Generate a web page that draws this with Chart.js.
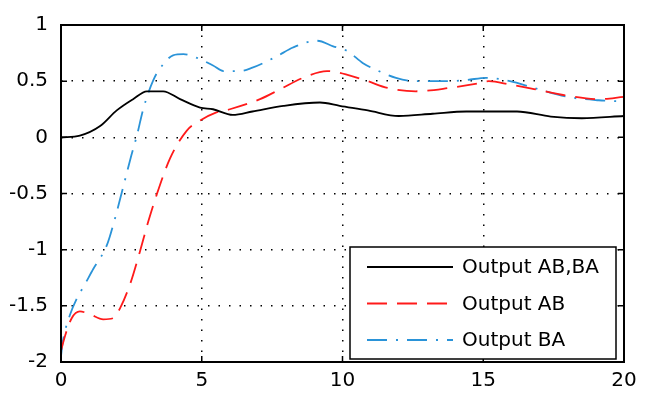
<!DOCTYPE html>
<html>
<head>
<meta charset="utf-8">
<script src="https://cdn.jsdelivr.net/npm/chart.js@4"></script>
<style>
  body { margin: 0; background: #fff; }
  #wrap { width: 647px; height: 395px; }
</style>
</head>
<body>
<div id="wrap"><canvas id="lineChart"></canvas></div>
<script>
// Output AB,BA (black)
var tBoth = [0, 0.67, 1.39, 1.98, 2.56, 3.05, 3.63, 4.23, 4.94, 5.4, 6.1, 6.8, 7.9, 9.2, 9.9, 10.9, 12.0, 13.2, 14.4, 16.2, 17.4, 18.5, 20];
var yBoth = [0, 0.015, 0.1, 0.24, 0.34, 0.41, 0.41, 0.34, 0.265, 0.25, 0.2, 0.23, 0.28, 0.31, 0.28, 0.24, 0.19, 0.21, 0.23, 0.23, 0.185, 0.17, 0.19];

// Output AB (red dashed)
var tAB = [0, 0.14, 0.38, 0.67, 1.03, 1.5, 1.85, 2.1, 2.45, 2.8, 3.1, 3.4, 3.87, 4.47, 4.94, 5.5, 6.0, 7.07, 7.8, 8.6, 9.45, 10.27, 10.9, 11.6, 12.6, 13.8, 14.8, 15.2, 15.95, 16.8, 18.0, 19.1, 20];
var yAB = [-1.9, -1.77, -1.61, -1.55, -1.575, -1.62, -1.61, -1.52, -1.31, -1.02, -0.75, -0.51, -0.19, 0.06, 0.15, 0.22, 0.25, 0.34, 0.43, 0.53, 0.59, 0.55, 0.5, 0.44, 0.41, 0.44, 0.48, 0.5, 0.47, 0.43, 0.37, 0.34, 0.36];

// Output BA (blue dash-dot)
var tBA = [0, 0.05, 0.32, 0.57, 0.8, 1.15, 1.63, 1.92, 2.15, 2.5, 2.7, 2.92, 3.28, 3.63, 3.98, 4.35, 4.8, 5.4, 5.77, 6.36, 6.8, 7.66, 8.24, 9.1, 9.67, 10.16, 10.73, 11.2, 11.9, 12.6, 13.7, 14.4, 15.1, 15.95, 16.8, 18.0, 19.1, 20];
var yBA = [-1.95, -1.84, -1.58, -1.43, -1.33, -1.17, -0.96, -0.72, -0.5, -0.16, 0.02, 0.25, 0.51, 0.65, 0.73, 0.74, 0.71, 0.64, 0.59, 0.59, 0.62, 0.72, 0.8, 0.86, 0.81, 0.77, 0.66, 0.6, 0.53, 0.5, 0.5, 0.51, 0.53, 0.5, 0.44, 0.36, 0.33, 0.32];

var xTicks = [0, 5, 10, 15, 20];
var yTicks = [-2, -1.5, -1, -0.5, 0, 0.5, 1];

function pts(t, y) {
    return t.map(function (v, i) { return { x: v, y: y[i] }; });
}

var FONT = 'DejaVu Sans';

// box, inward ticks and legend drawn on top, matlab style
var boxPlugin = {
    id: 'boxPlugin',
    afterDraw: function (chart) {
        var c = chart.ctx, a = chart.chartArea;
        var xs = chart.scales.x, ys = chart.scales.y;
        c.save();
        c.strokeStyle = '#000';
        c.lineWidth = 2;
        c.setLineDash([]);
        c.strokeRect(a.left, a.top, a.right - a.left, a.bottom - a.top);
        c.lineWidth = 1.5;
        c.beginPath();
        xTicks.forEach(function (v) {
            var px = xs.getPixelForValue(v);
            c.moveTo(px, a.bottom); c.lineTo(px, a.bottom - 6);
            c.moveTo(px, a.top); c.lineTo(px, a.top + 6);
        });
        yTicks.forEach(function (v) {
            var py = ys.getPixelForValue(v);
            c.moveTo(a.left, py); c.lineTo(a.left + 6, py);
            c.moveTo(a.right, py); c.lineTo(a.right - 6, py);
        });
        c.stroke();

        // legend box
        var lx = a.left + 289, ly = a.top + 222, lw = 266, lh = 112;
        c.fillStyle = '#fff';
        c.fillRect(lx, ly, lw, lh);
        c.lineWidth = 1.5;
        c.strokeRect(lx, ly, lw, lh);
        c.font = '20px "' + FONT + '"';
        c.textBaseline = 'middle';
        chart.data.datasets.forEach(function (ds, i) {
            var yy = ly + 20 + i * 36.5;
            c.beginPath();
            c.strokeStyle = ds.borderColor;
            c.lineWidth = ds.borderWidth;
            c.setLineDash(ds.borderDash || []);
            c.moveTo(lx + 17, yy); c.lineTo(lx + 103, yy);
            c.stroke();
            c.setLineDash([]);
            c.fillStyle = '#000';
            c.fillText(ds.label, lx + 112, yy + 1);
        });
        c.restore();
    }
};

var ctx = document.getElementById('lineChart').getContext('2d');
var myChart = new Chart(ctx, {
    type: 'line',
    data: {
        datasets: [{
            label: 'Output AB,BA',
            data: pts(tBoth, yBoth),
            borderColor: '#000000',
            borderWidth: 1.8,
            pointRadius: 0,
            cubicInterpolationMode: 'monotone',
            fill: false
        }, {
            label: 'Output AB',
            data: pts(tAB, yAB),
            borderColor: '#ff1a1a',
            borderWidth: 1.8,
            borderDash: [20, 10],
            pointRadius: 0,
            cubicInterpolationMode: 'monotone',
            fill: false
        }, {
            label: 'Output BA',
            data: pts(tBA, yBA),
            borderColor: '#2a93d8',
            borderWidth: 1.8,
            borderDash: [20, 9, 2, 9],
            pointRadius: 0,
            cubicInterpolationMode: 'monotone',
            fill: false
        }]
    },
    options: {
        responsive: true,
        maintainAspectRatio: false,
        animation: false,
        layout: { padding: { top: 22, right: 23, left: 0, bottom: 0 } },
        plugins: {
            legend: { display: false },
            tooltip: { enabled: false }
        },
        scales: {
            x: {
                type: 'linear',
                min: 0,
                max: 20,
                afterFit: function (s) { s.height = 33; },
                afterBuildTicks: function (s) { s.ticks = xTicks.map(function (v) { return { value: v }; }); },
                border: { display: false, dash: [1.5, 9] },
                grid: {
                    color: '#000',
                    lineWidth: 1.5,
                    drawTicks: false,
                    tickLength: 0
                },
                ticks: {
                    padding: 7,
                    color: '#000',
                    maxRotation: 0,
                    font: { family: FONT, size: 20 },
                    callback: function (v) { return String(v); }
                }
            },
            y: {
                min: -2,
                max: 1,
                afterFit: function (s) { s.width = 61; },
                afterBuildTicks: function (s) { s.ticks = yTicks.map(function (v) { return { value: v }; }); },
                border: { display: false, dash: [1.5, 9] },
                grid: {
                    color: '#000',
                    lineWidth: 1.5,
                    drawTicks: false,
                    tickLength: 0
                },
                ticks: {
                    padding: 13,
                    color: '#000',
                    font: { family: FONT, size: 20 },
                    callback: function (v) { return String(v); }
                }
            }
        }
    },
    plugins: [boxPlugin]
});
</script>
</body>
</html>
